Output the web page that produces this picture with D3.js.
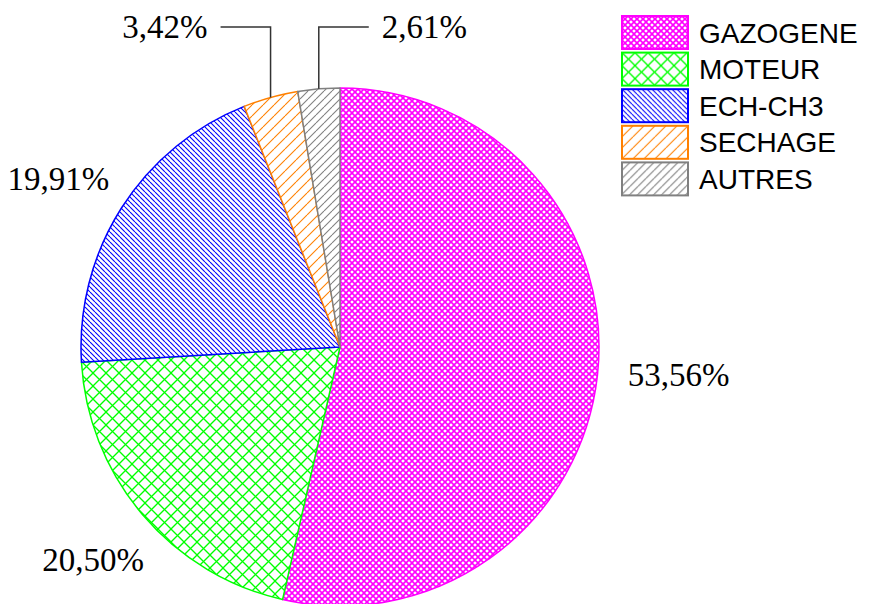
<!DOCTYPE html>
<html>
<head>
<meta charset="utf-8">
<script src="https://cdn.jsdelivr.net/npm/d3@7"></script>
<style>
  html, body { margin: 0; padding: 0; background: #fff; }
  svg { display: block; }
</style>
</head>
<body>
<svg id="chart" width="869" height="604"></svg>
<script>
// Share of each consumer (%), listed clockwise from 12 o'clock
const categories = ["GAZOGENE", "MOTEUR", "ECH-CH3", "SECHAGE", "AUTRES"];
const shares = [53.56, 20.50, 19.91, 3.42, 2.61];
const valueLabels = ["53,56%", "20,50%", "19,91%", "3,42%", "2,61%"];
const colors = ["#ff00ff", "#00ff00", "#0000ff", "#ff8000", "#808080"];

const svg = d3.select("#chart");
const cx = 340, cy = 347, R = 259;

// Hatch fills for every slice
const defs = svg.append("defs");
function hatch(id, size, color, dirs, sw) {
  const p = defs.append("pattern")
    .attr("id", id).attr("patternUnits", "userSpaceOnUse")
    .attr("width", size).attr("height", size);
  p.append("rect").attr("width", size).attr("height", size).attr("fill", "#fff");
  dirs.forEach(d => {
    const segs = d === "/"
      ? [[0, size, size, 0], [-size, size, 0, 0], [size, size, 2 * size, 0]]
      : [[0, 0, size, size], [-size, 0, 0, size], [size, 0, 2 * size, size]];
    segs.forEach(s => p.append("line")
      .attr("x1", s[0]).attr("y1", s[1]).attr("x2", s[2]).attr("y2", s[3])
      .attr("stroke", color).attr("stroke-width", sw));
  });
}
const patternSpec = [
  { size: 6, dirs: ["/", "\\"], sw: 1.6 },
  { size: 13, dirs: ["/", "\\"], sw: 1.3 },
  { size: 5, dirs: ["\\"], sw: 1.1 },
  { size: 11, dirs: ["/"], sw: 1.1 },
  { size: 8, dirs: ["/"], sw: 1.1 }
];
categories.forEach((c, i) => hatch("pat" + i, patternSpec[i].size, colors[i], patternSpec[i].dirs, patternSpec[i].sw));

const data = categories.map((c, i) => ({ name: c, value: shares[i], label: valueLabels[i], i }));

const pie = d3.pie().value(d => d.value).sort(null);
const arc = d3.arc().innerRadius(0).outerRadius(R);
const arcs = pie(data);

const g = svg.append("g").attr("transform", `translate(${cx},${cy})`);

g.selectAll("path.slice")
  .data(arcs)
  .join("path")
  .attr("class", "slice")
  .attr("d", arc)
  .attr("fill", d => `url(#pat${d.data.i})`)
  .attr("stroke", d => colors[d.data.i])
  .attr("stroke-width", 1.5)
  .attr("stroke-linejoin", "round");

// Value labels: large slices get a label out along the mid-angle,
// thin slices get an elbow leader line to a label above the pie
const labelFont = "'Liberation Serif', 'Times New Roman', serif";
const labelRadius = [1.30, 1.27, 1.27];
const labelNudge = [[4, -10], [4, 0], [-4, 8]];
const leaderY = 27 - cy;

arcs.forEach(a => {
  const mid = (a.startAngle + a.endAngle) / 2;
  const sx = Math.sin(mid), sy = -Math.cos(mid);
  if (a.data.value > 10) {
    const k = labelRadius[a.data.i] * R;
    const n = labelNudge[a.data.i];
    g.append("text")
      .attr("x", sx * k + n[0]).attr("y", sy * k + n[1])
      .attr("text-anchor", "middle")
      .attr("dominant-baseline", "central")
      .attr("font-family", labelFont)
      .attr("font-size", 33)
      .attr("fill", "#000")
      .text(a.data.label);
  } else {
    const px = sx * R, py = sy * R;
    const side = a.data.i === 3 ? -1 : 1;
    const ex = px + side * 50;
    g.append("path")
      .attr("d", `M${px},${py}V${leaderY}H${ex}`)
      .attr("fill", "none")
      .attr("stroke", "#333")
      .attr("stroke-width", 1.5);
    g.append("text")
      .attr("x", ex + side * 13).attr("y", leaderY)
      .attr("text-anchor", side < 0 ? "end" : "start")
      .attr("dominant-baseline", "central")
      .attr("font-family", labelFont)
      .attr("font-size", 33)
      .attr("fill", "#000")
      .text(a.data.label);
  }
});

// Legend
const legend = svg.append("g").attr("transform", "translate(622,16)");
const row = legend.selectAll("g.item")
  .data(data)
  .join("g")
  .attr("class", "item")
  .attr("transform", (d, i) => `translate(0,${i * 36.6})`);
row.append("rect")
  .attr("width", 66).attr("height", 33)
  .attr("fill", d => `url(#pat${d.i})`)
  .attr("stroke", d => colors[d.i])
  .attr("stroke-width", 2);
row.append("text")
  .attr("x", 77).attr("y", 17)
  .attr("dominant-baseline", "central")
  .attr("font-family", "'Liberation Sans', Arial, sans-serif")
  .attr("font-size", 28)
  .attr("fill", "#000")
  .text(d => d.name);
</script>
</body>
</html>
